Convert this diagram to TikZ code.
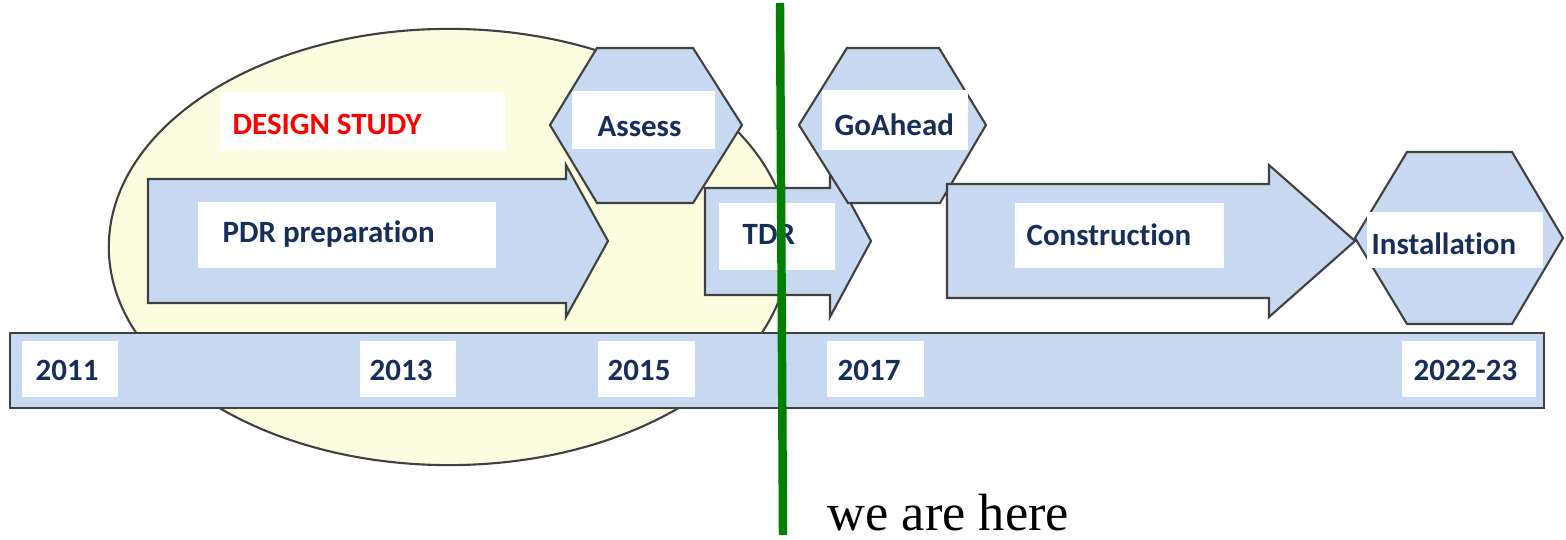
\documentclass[tikz,border=0pt]{standalone}
\usepackage{fontspec}
\setmainfont{Carlito}[Ligatures=NoCommon]
\newfontfamily\herefont{Liberation Serif}
\definecolor{phaseblue}{RGB}{198,217,241}
\definecolor{studyyellow}{RGB}{252,252,222}
\definecolor{labelnavy}{RGB}{23,45,90}
\definecolor{edgegrey}{RGB}{64,64,64}
\definecolor{nowgreen}{RGB}{0,128,0}

\begin{document}
\begin{tikzpicture}[x=0.01cm,y=-0.01cm,
    phase/.style={fill=phaseblue,draw=edgegrey,line width=0.6pt,line join=miter},
    lbl/.style={anchor=base west,inner sep=0pt,text=labelnavy,font=\fontsize{8.8}{10}\selectfont\bfseries}]
    \useasboundingbox (0,0) rectangle (1566,540);
    \draw[fill=studyyellow,draw=edgegrey,line width=0.6pt] (449,247) ellipse [x radius=3.4cm, y radius=2.18cm];
    \draw[phase] (148,179) -- (566,179) -- (566,165) -- (608,241) -- (566,317) -- (566,303) -- (148,303) -- cycle;
    \draw[phase] (597,48) -- (693,48) -- (742,125) -- (693,203) -- (597,203) -- (550,125) -- cycle;
    \draw[phase] (705,188) -- (830,188) -- (830,165) -- (871,241) -- (830,317) -- (830,295) -- (705,295) -- cycle;
    \draw[phase] (847,48) -- (939,48) -- (986,125) -- (940,203) -- (848,203) -- (799,125) -- cycle;
    \draw[phase] (947,184) -- (1269,184) -- (1269,165) -- (1355,241) -- (1269,317) -- (1269,298) -- (947,298) -- cycle;
    \draw[phase] (1407,152) -- (1512,152) -- (1563,238) -- (1512,324) -- (1407,324) -- (1355,238) -- cycle;
    \fill[white] (220,92) rectangle (505,150);
    \fill[white] (198,202) rectangle (496,268);
    \fill[white] (572,91) rectangle (715,149);
    \fill[white] (719,203) rectangle (835,270);
    \fill[white] (822,90) rectangle (968,150);
    \fill[white] (1015,203) rectangle (1224,268);
    \fill[white] (1367,212) rectangle (1543,268);
    \node[lbl,text=red] (study) at (232,135) {DESIGN STUDY};
    \node[lbl] (pdr) at (222,243) {PDR preparation};
    \node[lbl] (assess) at (597,137) {Assess};
    \node[lbl] (tdr) at (742,245) {TDR};
    \node[lbl] (goahead) at (834,136) {GoAhead};
    \node[lbl] (construction) at (1026,246) {Construction};
    \node[lbl] (installation) at (1371,255) {Installation};
    \draw[fill=phaseblue,draw=edgegrey,line width=0.7pt] (10,333) rectangle (1544,408);
    \foreach \yr/\xa/\xb/\xt/\nm in {2011/22/118/35/ya, 2013/360/456/369/yb, 2015/598/695/607/yc, 2017/827/924/837/yd, 2022-23/1402/1536/1413/ye} {
        \fill[white] (\xa,341) rectangle (\xb,397);
        \node[lbl] (\nm) at (\xt,381) {\yr};
    }
    \coordinate (nowtop) at (780,3);
    \coordinate (nowbot) at (783,535);
    \draw[nowgreen,line width=2.4pt] (nowtop) -- (nowbot);
    \node[anchor=base west,inner sep=0pt,font=\herefont\fontsize{14.9}{17}\selectfont] (here) at (827,531) {we are here};
\end{tikzpicture}
\end{document}
